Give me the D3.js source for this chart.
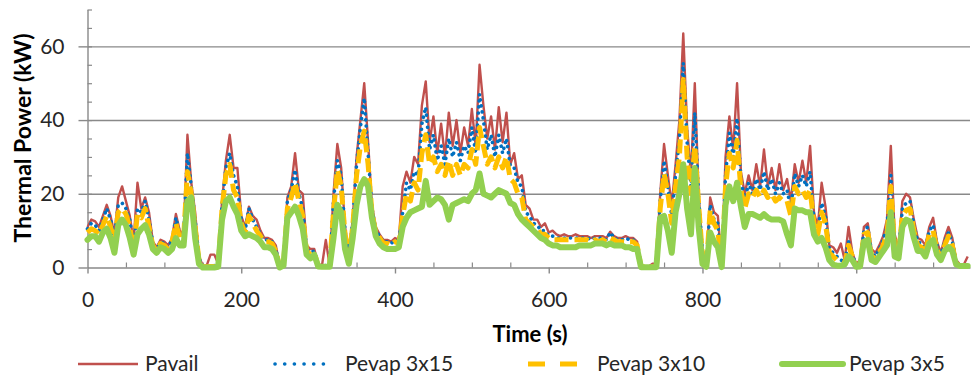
<!DOCTYPE html>
<html>
<head>
<meta charset="utf-8">
<script src="https://cdn.jsdelivr.net/npm/d3@7"></script>
<style>
  html, body { margin: 0; padding: 0; background: #fff; }
  svg { display: block; font-family: Lato, "Open Sans", sans-serif; }
</style>
</head>
<body>
<svg id="chart" width="972" height="379"></svg>
<script>
// Sampling interval of the recorded series (seconds)
const sampleStep = 5;

// Available thermal power (kW)
const pavail = [
  11,13,12.5,11,14,17,14,9,19,22,
  18,14,7,23,16,19,15,7,5.5,7.5,
  7,6,8,14.5,10,9,36,23,15,3,
  0.5,0.5,3.5,3.5,1,18,29,36,27,27,
  14,11,16.5,14,13,10,8,8,7.5,6,
  0.5,2,19,22,31,21,20,6,5,5,
  1,0.5,7.5,0.5,20,33.5,27,11,4,13,
  30,40,50,34,17,11,9,7.5,7.5,7,
  8,7.5,22,26,23,30,28,44,50.5,34,
  41,31,39,30,42,33,40,31,38,33,
  43,33,55,44,35,41,32,43.5,34,42,
  28,31,24,25,17,16,13,13,11,12,
  9.5,10,9,8.5,9,8.5,8.5,9,8.5,8.5,
  8.5,8,8.5,8.5,8.5,8,9.7,8.5,8,8,
  8.5,8,8,7,0.3,0.3,0.3,1,1,20,
  33.5,25,17,28,40,63.5,38,25,50,20,
  5,0.5,19,15,14,0.5,30,41,32,50,
  26,20,25,21,28,22,32,22,27,21,
  28,21,24,18,28,23,29,23,33,15,
  11,23,16.5,6,5.5,4,6.5,2,11,4,
  1,2,11,12,5,4,6,8.5,13,33,
  9,5,18,20,19,13,8,7.5,6,11,
  13.5,7,4,8,11,8,2,0.8,0.8,3
];

// Evaporator power, 3x15 configuration (kW)
const pevap3x15 = [
  10.5,12,11.5,10,13,16,13,8,17,17.5,
  16,13,6,16,15,18,13,6.5,5,7,
  6.5,5.5,7.5,13.5,9,8.5,31,22,13,2.5,
  0.3,0.3,0.5,0.5,0.5,17,27,31,25,22,
  13,10,16,13,11,9,7.5,7.5,7,5,
  0.3,1.5,18,21,26.5,20,16,5,4,4.5,
  0.5,0.3,0.5,0.3,18,29,25,10,3.5,12,
  28,38,46,31,16,10,8.5,7,7,6.5,
  7.5,7,15,23,21,26,25,39,43.5,32,
  36,29,33,28,35,30,34,29,33,31,
  38,31,47,40,32,36,30,36,31,35,
  27.5,27,23,22,15,14,12,11.5,10,10,
  8.5,8.5,8,8,8,8,8,8,8,8,
  8,7.5,8,8,8,7.5,9.5,8,7.5,7.5,
  8,7.5,7.5,6.5,0.2,0.2,0.2,0.3,0.3,18,
  29,22,14,25,35,55.5,34,22,42,19,
  4,0.3,17,13,12,0.3,25,36.5,30,40.5,
  24,18,23,20,24,21,26,21,24,20,
  23,20,21,16,25.5,22,25,22,26,13,
  10,17.5,14,5,4,3,2,1.5,7,3.5,
  0.5,1,10,11,4,3,5,7.5,11,25,
  6,4,16,17.5,18,11.5,7,6.5,5,10,
  11.5,6,3,7,9.5,7,1.5,0.6,0.6,0.6
];

// Evaporator power, 3x10 configuration (kW)
const pevap3x10 = [
  9.5,10.5,10,9,11.5,14,11,7,15,16,
  14.5,11,5,14.5,13.5,16,11,6,4.5,6.5,
  6,5,7,12,8,8,26,20,11,2,
  0.2,0.2,0.3,0.3,0.3,16,25,28,21,19,
  12,9.5,14,12,10,8.5,7,7,6.5,4.5,
  0.2,1,16,19,23,18,14,4.5,3.5,4,
  0.5,0.3,0.3,0.3,15,26.5,22,9,3,11,
  25,33,37,28,15,9.5,8,6.5,6.5,6,
  7,6.5,14,20,18,23,21,31,36,28,
  30,26,28,25,29,25,28,25,28,27,
  32,28,38,33,28,30,27,30,27,30,
  24,23,20,19,13,12,11,10.5,9,9,
  8,7.5,7.5,7.5,7.5,7.5,7.5,7.5,7.5,7.5,
  7.5,7,7.5,7,7.5,7,8,7.5,7,7,
  7,7,7,6,0.2,0.2,0.2,0.2,0.2,16,
  25.5,20,12,22,30,51,30,20,33,17,
  3,0.3,15.5,12,10,0.2,22,31,27,34.5,
  21,16,20,19,21,19,21,19,20,18,
  19,18,18,14,22,20,21,19,21,12,
  9,15,12,4,3,2,1.5,1,6,3,
  0.3,0.5,9,9.5,3,2.5,4,6,9,22,
  5,3.5,14,15.5,16,10,6,5.5,4,9,
  10,5,2.5,6,8.5,6,1,0.5,0.5,0.5
];

// Evaporator power, 3x5 configuration (kW)
const pevap3x5 = [
  7.5,8.5,8.5,7,9.5,10.5,8,4,11.5,13,
  11.5,8,3.5,9,10.5,11.5,9,5,4,5.5,
  5,4,5,8,6,6,18,19,8,1,
  0,0,0,0,0.2,13,18,19,16.5,14.5,
  10,8.5,9,8.5,8,7,5.5,5.5,5,3.5,
  0,0.5,13.5,15,16.5,14,10.5,3.5,2.5,3.5,
  0.3,0.2,0.2,0.2,8,17,15,5,1,8,
  17,22,24,22,13.5,8.5,6.5,5.5,5,5,
  5,5.5,11,13.5,15,15.5,16,16.5,23.5,17,
  18,19,18.5,17,13,17,17.5,18,18.5,18,
  20,21,25.5,20,19.5,19,20,21,20.5,20,
  17.5,17,14.5,13,12,11,10,9,8,7.5,
  6.5,6,6,5.5,5.5,5.5,5.5,5.5,6,6,
  6,6,6.5,6.5,6.5,6,6.5,6,6,6,
  5.5,5.5,5,5,0.1,0.1,0.1,0.1,0.1,13.5,
  14,10,4,15,20,28,16,9,27,11,
  1,0.2,9.5,7,5.5,0.1,17,22,18,23,
  16.5,11,14.5,14.5,14,13.5,14.5,13.5,13,13,
  13,12.5,9,6,16,15.5,15.5,15,15,9,
  7,8,5.5,2,0.8,0.5,0.5,0.8,3,2,
  0.2,0.3,7,7.5,2,1.5,3,4.5,6,15,
  3,2.5,11,13,12.5,8,4.5,4.5,3,6.5,
  7.5,3.5,2,4.5,5.5,4.5,0.8,0.4,0.4,0.4
];

const seriesNames = ["Pavail", "Pevap 3x15", "Pevap 3x10", "Pevap 3x5"];
const xMajorTicks = [0, 200, 400, 600, 800, 1000];
const yMajorTicks = [0, 20, 40, 60];
const xTitle = "Time (s)";
const yTitle = "Thermal Power (kW)";

const svg = d3.select("#chart");
const plotLeft = 87.5, plotRight = 970, plotTop = 9.5, plotBottom = 267.5;
const axisColor = "#898989";
const labelColor = "#262626";
const plainNumber = d3.format("d");

const x = d3.scaleLinear().domain([0, 1148]).range([plotLeft, plotRight]);
const y = d3.scaleLinear().domain([0, 70]).range([plotBottom, plotTop]);

// Horizontal gridlines at the major y values
svg.append("g")
  .attr("transform", `translate(${plotLeft},0)`)
  .call(d3.axisLeft(y).tickValues(yMajorTicks.filter(d => d > 0)).tickSize(-(plotRight - plotLeft)).tickFormat(""))
  .call(g => g.select(".domain").remove())
  .call(g => g.selectAll("line").attr("stroke", axisColor).attr("stroke-width", 1.4));

// Minor y ticks (inside)
svg.append("g")
  .attr("transform", `translate(${plotLeft},0)`)
  .call(d3.axisLeft(y).tickValues(d3.range(5, 71, 5)).tickSize(-4.5).tickFormat(""))
  .call(g => g.select(".domain").remove())
  .call(g => g.selectAll("line").attr("stroke", axisColor).attr("stroke-width", 1.2));

// Major y axis with labels
svg.append("g")
  .attr("transform", `translate(${plotLeft},0)`)
  .call(d3.axisLeft(y).tickValues(yMajorTicks).tickFormat(plainNumber).tickSizeInner(9).tickSizeOuter(0).tickPadding(14))
  .call(g => g.select(".domain").attr("stroke", axisColor).attr("stroke-width", 1.4))
  .call(g => g.selectAll("line").attr("stroke", axisColor).attr("stroke-width", 1.4))
  .call(g => g.selectAll("text").attr("font-size", 21).attr("fill", labelColor).attr("font-family", "Lato, sans-serif"));

// Minor x ticks (inside)
svg.append("g")
  .attr("transform", `translate(0,${plotBottom})`)
  .call(d3.axisBottom(x).tickValues(d3.range(50, 1148, 50).filter(d => d % 200 !== 0)).tickSize(-5).tickFormat(""))
  .call(g => g.select(".domain").remove())
  .call(g => g.selectAll("line").attr("stroke", axisColor).attr("stroke-width", 1.2));

// Major x axis with labels
svg.append("g")
  .attr("transform", `translate(0,${plotBottom})`)
  .call(d3.axisBottom(x).tickValues(xMajorTicks).tickFormat(plainNumber).tickSizeInner(6).tickSizeOuter(0).tickPadding(18.5))
  .call(g => g.select(".domain").attr("stroke", axisColor).attr("stroke-width", 1.4))
  .call(g => g.selectAll("line").attr("stroke", axisColor).attr("stroke-width", 1.4))
  .call(g => g.selectAll("text").attr("font-size", 21).attr("fill", labelColor).attr("font-family", "Lato, sans-serif"));

// Series lines
const n = pavail.length;
const times = d3.range(n).map(i => i * sampleStep);
const line = d3.line().x((d, i) => x(times[i])).y(d => y(d));

const styles = [
  { data: pavail,    color: "#C0504D", width: 2.4, dash: null,      cap: "butt",  legendDash: null },
  { data: pevap3x15, color: "#0070C0", width: 3.6, dash: "0.1 6",   cap: "round", legendDash: "0.1 9.57" },
  { data: pevap3x10, color: "#FFC000", width: 5,   dash: "14 6",    cap: "butt",  legendDash: "17 15" },
  { data: pevap3x5,  color: "#92D050", width: 6,   dash: null,      cap: "round", legendDash: null }
];

styles.forEach(s => {
  svg.append("path")
    .datum(s.data)
    .attr("d", line)
    .attr("fill", "none")
    .attr("stroke", s.color)
    .attr("stroke-width", s.width)
    .attr("stroke-linejoin", "round")
    .attr("stroke-linecap", s.cap)
    .attr("stroke-dasharray", s.dash);
});

// Axis titles
svg.append("text")
  .attr("transform", "translate(31,138) rotate(-90)")
  .attr("text-anchor", "middle")
  .attr("font-size", 23)
  .attr("font-weight", "bold")
  .attr("fill", "#000")
  .text(yTitle);

svg.append("text")
  .attr("x", 530)
  .attr("y", 342)
  .attr("text-anchor", "middle")
  .attr("font-size", 22)
  .attr("font-weight", "bold")
  .attr("fill", "#000")
  .text(xTitle);

// Legend
const legendItems = [
  { x0: 78,  x1: 138, tx: 145 },
  { x0: 275, x1: 333, tx: 345 },
  { x0: 528, x1: 577, tx: 597 },
  { x0: 782, x1: 843, tx: 849 }
];
const legendY = 364;
const legend = svg.append("g");
legendItems.forEach((item, i) => {
  const s = styles[i];
  legend.append("line")
    .attr("x1", item.x0).attr("x2", item.x1)
    .attr("y1", legendY).attr("y2", legendY)
    .attr("stroke", s.color)
    .attr("stroke-width", s.width)
    .attr("stroke-linecap", s.cap)
    .attr("stroke-dasharray", s.legendDash);
  legend.append("text")
    .attr("x", item.tx)
    .attr("y", 371)
    .attr("font-size", 21)
    .attr("fill", labelColor)
    .text(seriesNames[i]);
});
</script>
</body>
</html>
